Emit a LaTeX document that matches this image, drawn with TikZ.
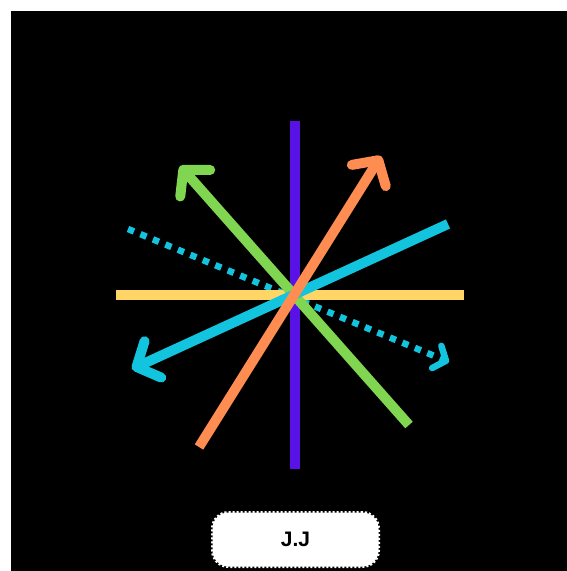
\documentclass[tikz,border=0pt]{standalone}
\usepackage{fontspec}
\setmainfont{Liberation Sans}
\usetikzlibrary{arrows.meta}
\begin{document}
\begin{tikzpicture}[x=1pt,y=-1pt,
  ray/.style={line width=10pt},
  tipray/.style={line width=10pt,-{Straight Barb[round,length=18pt,width=40pt]}},
  dotray/.style={line width=6.5pt,dash pattern=on 6.5pt off 7pt,-{Straight Barb[round,length=10pt,width=24pt]}},
  label/.style={fill=white,draw=white,line width=3pt,dash pattern=on 2pt off 2pt,rounded corners=16pt,minimum width=166pt,minimum height=54pt,font=\bfseries\fontsize{21pt}{24pt}\selectfont}]
\useasboundingbox (0,0) rectangle (567,571);
\fill[white] (0,0) rectangle (567,571);
\fill[black] (11,11) rectangle (567,571);
\coordinate (p1) at (295,121); \coordinate (p2) at (295,469);
\coordinate (y1) at (116,295); \coordinate (y2) at (464,295);
\coordinate (o1) at (199,447); \coordinate (o2) at (381,156);
\coordinate (g1) at (409,425); \coordinate (g2) at (180,166);
\coordinate (b1) at (448,224); \coordinate (b2) at (132,369);
\coordinate (d1) at (128,229); \coordinate (d2) at (449,362);
\draw[ray,color={rgb,255:red,88;green,18;blue,230}] (p1) -- (p2);
\draw[dotray,color={rgb,255:red,18;green,196;blue,222}] (d1) -- (d2);
\draw[ray,color={rgb,255:red,255;green,214;blue,102}] (y1) -- (y2);
\draw[tipray,color={rgb,255:red,128;green,214;blue,80}] (g1) -- (g2);
\draw[tipray,color={rgb,255:red,18;green,196;blue,222}] (b1) -- (b2);
\draw[tipray,color={rgb,255:red,255;green,140;blue,80}] (o1) -- (o2);
\node[label] (jj) at (295.5,539.5) {J.J};
\end{tikzpicture}
\end{document}
